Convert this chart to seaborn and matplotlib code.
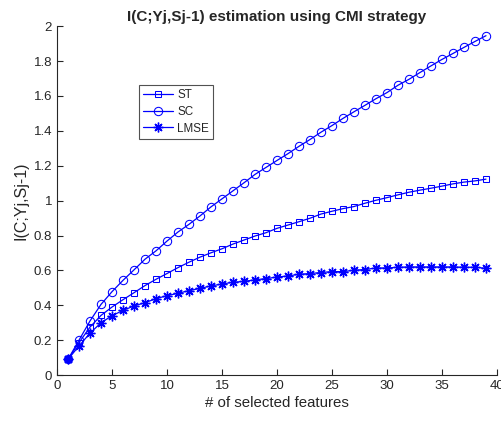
import numpy as np
import seaborn as sns
import matplotlib.pyplot as plt
from matplotlib.ticker import FormatStrFormatter

n_features = list(range(1, 40))

st = [0.09, 0.186, 0.275, 0.342, 0.39, 0.432, 0.472, 0.513, 0.549, 0.582,
      0.616, 0.647, 0.676, 0.701, 0.724, 0.751, 0.774, 0.797, 0.816, 0.841,
      0.86, 0.879, 0.899, 0.923, 0.939, 0.954, 0.966, 0.985, 1.002, 1.017,
      1.033, 1.048, 1.06, 1.071, 1.083, 1.096, 1.106, 1.113, 1.123]

sc = [0.09, 0.20, 0.31, 0.405, 0.478, 0.543, 0.603, 0.664, 0.712, 0.768,
      0.82, 0.864, 0.912, 0.964, 1.01, 1.056, 1.102, 1.15, 1.19, 1.23,
      1.269, 1.311, 1.35, 1.392, 1.43, 1.471, 1.509, 1.546, 1.584, 1.619,
      1.661, 1.695, 1.734, 1.772, 1.809, 1.843, 1.878, 1.912, 1.945]

lmse = [0.09, 0.167, 0.24, 0.30, 0.34, 0.371, 0.396, 0.415, 0.438, 0.455,
        0.469, 0.484, 0.497, 0.511, 0.522, 0.532, 0.537, 0.546, 0.553, 0.562,
        0.568, 0.578, 0.582, 0.588, 0.593, 0.593, 0.601, 0.605, 0.614, 0.614,
        0.618, 0.62, 0.62, 0.62, 0.62, 0.62, 0.618, 0.618, 0.612]

sns.set_style('ticks')
plt.rcParams['font.family'] = ['Liberation Sans', 'DejaVu Sans']
dark = '#262626'
plt.rcParams['xtick.direction'] = 'in'
plt.rcParams['ytick.direction'] = 'in'

fig = plt.figure(figsize=(5.02, 4.21), dpi=100)
ax = fig.add_axes([0.1135, 0.109, 0.8765, 0.829])

blue = (0, 0, 1)
sns.lineplot(x=n_features, y=st, ax=ax, color=blue, marker='s', markersize=5,
             markerfacecolor='none', markeredgecolor=blue, linewidth=0.9, label='ST')
sns.lineplot(x=n_features, y=sc, ax=ax, color=blue, marker='o', markersize=6,
             markerfacecolor='none', markeredgecolor=blue, linewidth=0.9, label='SC')
sns.lineplot(x=n_features, y=lmse, ax=ax, color=blue, marker=(8, 2, 0), markersize=7,
             markeredgecolor=blue, markeredgewidth=1.0, linewidth=0.9, label='LMSE')

ax.set_xlim(0, 40)
ax.set_ylim(0, 2)
ax.set_xticks(np.arange(0, 41, 5))
ax.set_yticks(np.arange(0, 2.01, 0.2))
ax.yaxis.set_major_formatter(FormatStrFormatter('%g'))
sns.despine(ax=ax)
for s in ['left', 'bottom']:
    ax.spines[s].set_color(dark)
    ax.spines[s].set_linewidth(0.8)
ax.tick_params(colors=dark, labelsize=9.5, length=4, width=0.8)

ax.set_xlabel('# of selected features', fontsize=10.8, color=dark, labelpad=3)
ax.set_ylabel('I(C;Yj,Sj-1)', fontsize=11.5, color=dark)
ax.set_title('I(C;Yj,Sj-1) estimation using CMI strategy', fontsize=11,
             fontweight='bold', pad=4)

leg = ax.legend(loc='upper left', bbox_to_anchor=(0.186, 0.831), fontsize=8.4,
                frameon=True, fancybox=False, handlelength=2.6, borderpad=0.35,
                labelspacing=0.4, handletextpad=0.35, borderaxespad=0)
leg.get_frame().set_edgecolor(dark)
leg.get_frame().set_linewidth(0.8)

plt.savefig('out.png', dpi=100)
